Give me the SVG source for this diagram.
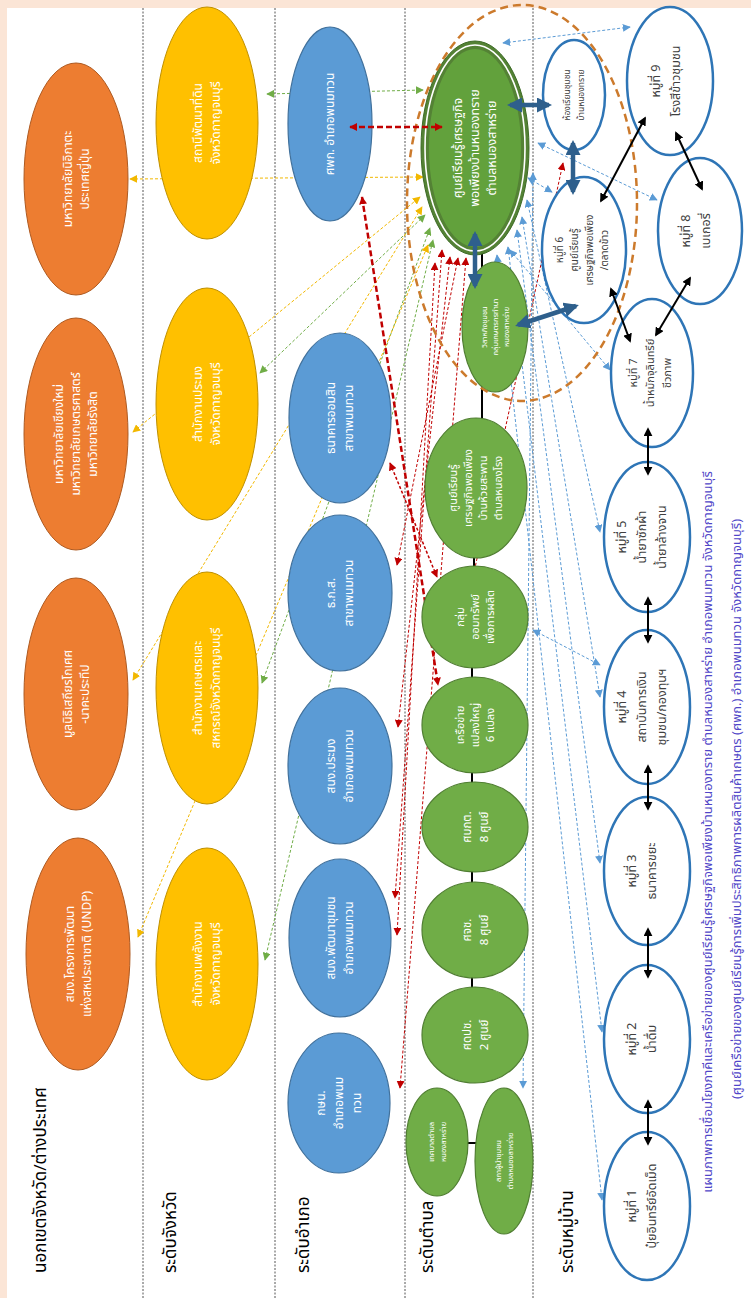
<svg xmlns="http://www.w3.org/2000/svg" width="751" height="1298" viewBox="0 0 751 1298">
<defs>
<style>
text{font-family:'Noto Sans Thai','Noto Sans','DejaVu Sans',sans-serif;}
.w{fill:#fff;text-anchor:middle;}
.k{fill:#404040;text-anchor:middle;}
.hd{fill:#000;font-size:17px;}
.ti{fill:#5046c8;font-size:13px;text-anchor:middle;}
.sep{stroke:#555;stroke-width:1;stroke-dasharray:2 1.5;fill:none;}
.or{fill:#ed7d31;stroke:#ae5a21;stroke-width:1;}
.ye{fill:#ffc000;stroke:#bf9000;stroke-width:1;}
.bl{fill:#5b9bd5;stroke:#41719c;stroke-width:1.2;}
.gr{fill:#70ad47;stroke:#507e32;stroke-width:1.2;}
.vi{fill:#fff;stroke:#2e75b6;stroke-width:2.5;}
.dg{stroke:#70ad47;stroke-width:1;stroke-dasharray:3 2;fill:none;marker-start:url(#mG);marker-end:url(#mG);}
.dy{stroke:#f2b800;stroke-width:1;stroke-dasharray:3 2;fill:none;marker-start:url(#mY);marker-end:url(#mY);}
.dr{stroke:#c00000;stroke-width:1;stroke-dasharray:3 2;fill:none;marker-start:url(#mR);marker-end:url(#mR);}
.drt{stroke:#c00000;stroke-width:2.5;stroke-dasharray:6 3;fill:none;marker-start:url(#mR);marker-end:url(#mR);}
.db{stroke:#5b9bd5;stroke-width:1;stroke-dasharray:3 2;fill:none;marker-start:url(#mB);marker-end:url(#mB);}
.ak{stroke:#000;stroke-width:2;fill:none;marker-start:url(#mK);marker-end:url(#mK);}
.at{stroke:#2e5f8c;stroke-width:4.5;fill:none;marker-start:url(#mT);marker-end:url(#mT);}
.ln{stroke:#000;stroke-width:2;}
</style>
<marker id="mG" viewBox="0 0 10 10" refX="9" refY="5" markerWidth="8" markerHeight="8" markerUnits="userSpaceOnUse" orient="auto-start-reverse"><path d="M0,0 L10,5 L0,10 z" fill="#70ad47"/></marker>
<marker id="mY" viewBox="0 0 10 10" refX="9" refY="5" markerWidth="8" markerHeight="8" markerUnits="userSpaceOnUse" orient="auto-start-reverse"><path d="M0,0 L10,5 L0,10 z" fill="#f2b800"/></marker>
<marker id="mR" viewBox="0 0 10 10" refX="9" refY="5" markerWidth="8" markerHeight="8" markerUnits="userSpaceOnUse" orient="auto-start-reverse"><path d="M0,0 L10,5 L0,10 z" fill="#c00000"/></marker>
<marker id="mB" viewBox="0 0 10 10" refX="9" refY="5" markerWidth="8" markerHeight="8" markerUnits="userSpaceOnUse" orient="auto-start-reverse"><path d="M0,0 L10,5 L0,10 z" fill="#5b9bd5"/></marker>
<marker id="mK" viewBox="0 0 10 10" refX="8" refY="5" markerWidth="9" markerHeight="9" markerUnits="userSpaceOnUse" orient="auto-start-reverse"><path d="M0,0 L10,5 L0,10 z" fill="#000"/></marker>
<marker id="mT" viewBox="0 0 10 10" refX="8" refY="5" markerWidth="15" markerHeight="15" markerUnits="userSpaceOnUse" orient="auto-start-reverse"><path d="M0,0 L10,5 L0,10 z" fill="#2e5f8c"/></marker>
</defs>

<rect x="0" y="0" width="751" height="1298" fill="#fbe5d6"/>
<rect x="7" y="8" width="744" height="1290" fill="#fff"/>

<g id="separators">
<line class="sep" x1="143" y1="8" x2="143" y2="1298"/>
<line class="sep" x1="275" y1="8" x2="275" y2="1298"/>
<line class="sep" x1="405" y1="8" x2="405" y2="1298"/>
<line class="sep" x1="533" y1="8" x2="533" y2="1298"/>
</g>

<g id="headers">
<text class="hd" transform="translate(46,1273) rotate(-90)">นอกเขตจังหวัด/ต่างประเทศ</text>
<text class="hd" transform="translate(176,1273) rotate(-90)">ระดับจังหวัด</text>
<text class="hd" transform="translate(309,1273) rotate(-90)">ระดับอำเภอ</text>
<text class="hd" transform="translate(433,1273) rotate(-90)">ระดับตำบล</text>
<text class="hd" transform="translate(573,1273) rotate(-90)">ระดับหมู่บ้าน</text>
</g>

<g id="title">
<text class="ti" transform="translate(712,832) rotate(-90)">แผนภาพการเชื่อมโยงภาคีและเครือข่ายของศูนย์เรียนรู้เศรษฐกิจพอเพียงบ้านหนองทราย  ตำบลหนองสาหร่าย  อำเภอพนมทวน  จังหวัดกาญจนบุรี</text>
<text class="ti" transform="translate(741,809) rotate(-90)">(ศูนย์เครือข่ายของศูนย์เรียนรู้การเพิ่มประสิทธิภาพการผลิตสินค้าเกษตร (ศพก.) อำเภอพนมทวน  จังหวัดกาญจนบุรี)</text>
</g>

<g id="connectors">
<line class="dg" x1="267" y1="94" x2="423" y2="90"/>
<line class="dg" x1="260" y1="373" x2="425" y2="215"/>
<line class="dg" x1="262" y1="683" x2="430" y2="228"/>
<line class="dg" x1="265" y1="960" x2="433" y2="240"/>
<line class="dy" x1="130" y1="179" x2="423" y2="177"/>
<line class="dy" x1="133" y1="432" x2="420" y2="197"/>
<line class="dy" x1="133" y1="680" x2="422" y2="207"/>
<line class="dy" x1="138" y1="937" x2="428" y2="245"/>
<line class="dr" x1="458" y1="258" x2="397" y2="565"/>
<line class="dr" x1="450" y1="257" x2="398" y2="727"/>
<line class="dr" x1="442" y1="250" x2="395" y2="898"/>
<line class="dr" x1="435" y1="263" x2="397" y2="935"/>
<line class="dr" x1="466" y1="258" x2="400" y2="1088"/>
<line class="dr" style="marker-start:none" x1="468" y1="600" x2="563" y2="163"/>
<line class="dr" style="stroke-width:1.5" x1="390" y1="463" x2="437" y2="577"/>
<line class="db" x1="503" y1="43" x2="630" y2="27"/>
<line class="db" x1="538" y1="143" x2="657" y2="200"/>
<line class="db" x1="528" y1="178" x2="552" y2="192"/>
<line class="db" x1="510" y1="250" x2="610" y2="370"/>
<line class="db" x1="527" y1="200" x2="600" y2="532"/>
<line class="db" x1="522" y1="217" x2="600" y2="697"/>
<line class="db" x1="517" y1="230" x2="600" y2="863"/>
<line class="db" x1="508" y1="247" x2="602" y2="1032"/>
<line class="db" x1="497" y1="255" x2="602" y2="1200"/>
<line class="db" x1="533" y1="173" x2="523" y2="1088"/>
<line class="db" x1="533" y1="630" x2="600" y2="665"/>
<line class="drt" x1="362" y1="197" x2="438" y2="685"/>
<line class="ln" x1="482" y1="245" x2="482" y2="270"/>
<line class="ln" x1="482" y1="385" x2="482" y2="425"/>
<line class="ln" x1="474" y1="552" x2="474" y2="572"/>
<line class="ln" x1="472" y1="660" x2="472" y2="682"/>
<line class="ln" x1="472" y1="768" x2="472" y2="786"/>
<line class="ln" x1="472" y1="868" x2="472" y2="886"/>
<line class="ln" x1="472" y1="974" x2="472" y2="990"/>
<line class="ln" x1="465" y1="1143" x2="478" y2="1143"/>
</g>

<g id="o1"><ellipse class="or" cx="76" cy="179" rx="52" ry="116"/><text class="w" font-size="12" transform="translate(76,179) rotate(-90)"><tspan x="0" y="-4.3">มหาวิทยาลัยนิอิกาตะ</tspan><tspan x="0" y="12.7">ประเทศญี่ปุ่น</tspan></text></g>
<g id="o2"><ellipse class="or" cx="76" cy="434" rx="52" ry="116"/><text class="w" font-size="12" transform="translate(76,434) rotate(-90)"><tspan x="0" y="-12.8">มหาวิทยาลัยเชียงใหม่</tspan><tspan x="0" y="4.2">มหาวิทยาลัยเกษตรศาสตร์</tspan><tspan x="0" y="21.2">มหาวิทยาลัยรังสิต</tspan></text></g>
<g id="o3"><ellipse class="or" cx="76" cy="694" rx="52" ry="116"/><text class="w" font-size="12" transform="translate(76,694) rotate(-90)"><tspan x="0" y="-4.3">มูลนิธิเสถียรโกเศศ</tspan><tspan x="0" y="12.7">-นาคะประทีป</tspan></text></g>
<g id="o4"><ellipse class="or" cx="78" cy="954" rx="52" ry="116"/><text class="w" font-size="12" transform="translate(78,954) rotate(-90)"><tspan x="0" y="-4.3">สนง.โครงการพัฒนา</tspan><tspan x="0" y="12.7">แห่งสหประชาชาติ (UNDP)</tspan></text></g>

<g id="y1"><ellipse class="ye" cx="207" cy="123" rx="51" ry="116"/><text class="w" font-size="12" transform="translate(207,123) rotate(-90)"><tspan x="0" y="-4.8">สถานีพัฒนาที่ดิน</tspan><tspan x="0" y="13.2">จังหวัดกาญจนบุรี</tspan></text></g>
<g id="y2"><ellipse class="ye" cx="207" cy="404" rx="51" ry="116"/><text class="w" font-size="12" transform="translate(207,404) rotate(-90)"><tspan x="0" y="-4.8">สำนักงานประมง</tspan><tspan x="0" y="13.2">จังหวัดกาญจนบุรี</tspan></text></g>
<g id="y3"><ellipse class="ye" cx="207" cy="688" rx="51" ry="116"/><text class="w" font-size="12" transform="translate(207,688) rotate(-90)"><tspan x="0" y="-4.8">สำนักงานเกษตรและ</tspan><tspan x="0" y="13.2">สหกรณ์จังหวัดกาญจนบุรี</tspan></text></g>
<g id="y4"><ellipse class="ye" cx="207" cy="964" rx="51" ry="116"/><text class="w" font-size="12" transform="translate(207,964) rotate(-90)"><tspan x="0" y="-4.8">สำนักงานพลังงาน</tspan><tspan x="0" y="13.2">จังหวัดกาญจนบุรี</tspan></text></g>

<g id="b1"><ellipse class="bl" cx="330" cy="124" rx="42" ry="97"/><text class="w" font-size="12" transform="translate(330,124) rotate(-90)"><tspan x="0" y="4.2">ศพก. อำเภอพนมทวน</tspan></text></g>
<g id="b2"><ellipse class="bl" cx="340" cy="418" rx="51" ry="85"/><text class="w" font-size="12" transform="translate(340,418) rotate(-90)"><tspan x="0" y="-4.8">ธนาคารออมสิน</tspan><tspan x="0" y="13.2">สาขาพนมทวน</tspan></text></g>
<g id="b3"><ellipse class="bl" cx="340" cy="593" rx="52" ry="78"/><text class="w" font-size="12" transform="translate(340,593) rotate(-90)"><tspan x="0" y="-4.8">ธ.ก.ส.</tspan><tspan x="0" y="13.2">สาขาพนมทวน</tspan></text></g>
<g id="b4"><ellipse class="bl" cx="340" cy="766" rx="52" ry="78"/><text class="w" font-size="12" transform="translate(340,766) rotate(-90)"><tspan x="0" y="-4.8">สนง.ประมง</tspan><tspan x="0" y="13.2">อำเภอพนมทวน</tspan></text></g>
<g id="b5"><ellipse class="bl" cx="340" cy="938" rx="51" ry="79"/><text class="w" font-size="12" transform="translate(340,938) rotate(-90)"><tspan x="0" y="-4.8">สนง.พัฒนาชุมชน</tspan><tspan x="0" y="13.2">อำเภอพนมทวน</tspan></text></g>
<g id="b6"><ellipse class="bl" cx="339" cy="1103" rx="51" ry="70"/><text class="w" font-size="12" transform="translate(339,1103) rotate(-90)"><tspan x="0" y="-13.8">กษน.</tspan><tspan x="0" y="4.2">อำเภอพนม</tspan><tspan x="0" y="22.2">ทวน</tspan></text></g>

<g id="g1">
<ellipse cx="475" cy="148" rx="54" ry="107" fill="#548235" stroke="#3d6b26" stroke-width="1"/>
<ellipse cx="475" cy="148" rx="50" ry="103" fill="none" stroke="#fff" stroke-width="1.6"/>
<ellipse cx="475" cy="148" rx="47" ry="100" fill="#62a13c" stroke="#548235" stroke-width="2"/>
<text class="w" font-size="12.5" transform="translate(475,148) rotate(-90)"><tspan x="0" y="-12.6">ศูนย์เรียนรู้เศรษฐกิจ</tspan><tspan x="0" y="4.4">พอเพียงบ้านหนองทราย</tspan><tspan x="0" y="21.4">ตำบลหนองสาหร่าย</tspan></text></g>
<g id="g2"><ellipse class="gr" cx="495" cy="327" rx="33" ry="65"/><text class="w" font-size="7.5" transform="translate(495,327) rotate(-90)"><tspan x="0" y="-8.4">วิสาหกิจชุมชน</tspan><tspan x="0" y="2.6">กลุ่มเกษตรกรทำนา</tspan><tspan x="0" y="13.6">หนองสาหร่าย</tspan></text></g>
<g id="g3"><ellipse class="gr" cx="476" cy="488" rx="51" ry="70"/><text class="w" font-size="11" transform="translate(476,488) rotate(-90)"><tspan x="0" y="-18.6">ศูนย์เรียนรู้</tspan><tspan x="0" y="-3.6">เศรษฐกิจพอเพียง</tspan><tspan x="0" y="11.4">บ้านห้วยสะพาน</tspan><tspan x="0" y="26.4">ตำบลหนองโรง</tspan></text></g>
<g id="g4"><ellipse class="gr" cx="475" cy="617" rx="53" ry="51"/><text class="w" font-size="11" transform="translate(475,617) rotate(-90)"><tspan x="0" y="-11.1">กลุ่ม</tspan><tspan x="0" y="3.9">ออมทรัพย์</tspan><tspan x="0" y="18.9">เพื่อการผลิต</tspan></text></g>
<g id="g5"><ellipse class="gr" cx="475" cy="725" rx="53" ry="48"/><text class="w" font-size="11" transform="translate(475,725) rotate(-90)"><tspan x="0" y="-11.1">เครือข่าย</tspan><tspan x="0" y="3.9">แปลงใหญ่</tspan><tspan x="0" y="18.9">6 แปลง</tspan></text></g>
<g id="g6"><ellipse class="gr" cx="475" cy="827" rx="53" ry="45"/><text class="w" font-size="11.5" transform="translate(475,827) rotate(-90)"><tspan x="0" y="-4.5">ศบกต.</tspan><tspan x="0" y="12.5">8 ศูนย์</tspan></text></g>
<g id="g7"><ellipse class="gr" cx="475" cy="930" rx="53" ry="48"/><text class="w" font-size="11.5" transform="translate(475,930) rotate(-90)"><tspan x="0" y="-4.5">ศจช.</tspan><tspan x="0" y="12.5">8 ศูนย์</tspan></text></g>
<g id="g8"><ellipse class="gr" cx="475" cy="1035" rx="53" ry="48"/><text class="w" font-size="11.5" transform="translate(475,1035) rotate(-90)"><tspan x="0" y="-4.5">ศดปช.</tspan><tspan x="0" y="12.5">2 ศูนย์</tspan></text></g>
<g id="g9"><ellipse class="gr" cx="437" cy="1142" rx="31" ry="54"/><text class="w" font-size="7.5" transform="translate(437,1142) rotate(-90)"><tspan x="0" y="-3.4">เทศบาลตำบล</tspan><tspan x="0" y="8.6">หนองสาหร่าย</tspan></text></g>
<g id="g10"><ellipse class="gr" cx="504" cy="1161" rx="29" ry="73"/><text class="w" font-size="7.5" transform="translate(504,1161) rotate(-90)"><tspan x="0" y="-3.4">สภาผู้นำชุมชน</tspan><tspan x="0" y="8.6">ตำบลหนองสาหร่าย</tspan></text></g>

<g id="v_room"><ellipse class="vi" cx="574" cy="95" rx="31" ry="55"/><text class="k" font-size="8.5" transform="translate(574,95) rotate(-90)"><tspan x="0" y="-4">ห้องเรียนชุมชน</tspan><tspan x="0" y="10">บ้านหนองทราย</tspan></text></g>
<g id="v6"><ellipse class="vi" cx="584" cy="250" rx="42" ry="73"/><text class="k" font-size="10" transform="translate(582,250) rotate(-90)"><tspan x="0" y="-19">หมู่ที่ 6</tspan><tspan x="0" y="-4">ศูนย์เรียนรู้</tspan><tspan x="0" y="11">เศรษฐกิจพอเพียง</tspan><tspan x="0" y="26">/ตลาดข้าว</tspan></text></g>
<g id="v9"><ellipse class="vi" cx="670" cy="81" rx="43" ry="74"/><text class="k" font-size="12.5" transform="translate(666,81) rotate(-90)"><tspan x="0" y="-5.6">หมู่ที่ 9</tspan><tspan x="0" y="14.4">โรงสีข้าวชุมชน</tspan></text></g>
<g id="v8"><ellipse class="vi" cx="700" cy="231" rx="42" ry="73"/><text class="k" font-size="12.5" transform="translate(696,231) rotate(-90)"><tspan x="0" y="-5.6">หมู่ที่ 8</tspan><tspan x="0" y="14.4">เบเกอรี่</tspan></text></g>
<g id="v7"><ellipse class="vi" cx="652" cy="373" rx="41" ry="74"/><text class="k" font-size="11" transform="translate(650,373) rotate(-90)"><tspan x="0" y="-13.1">หมู่ที่ 7</tspan><tspan x="0" y="3.9">น้ำหมักจุลินทรีย์</tspan><tspan x="0" y="20.9">ชีวภาพ</tspan></text></g>
<g id="v5"><ellipse class="vi" cx="647" cy="537" rx="43" ry="75"/><text class="k" font-size="12.5" transform="translate(642,537) rotate(-90)"><tspan x="0" y="-15.6">หมู่ที่ 5</tspan><tspan x="0" y="4.4">น้ำยาซักผ้า</tspan><tspan x="0" y="24.4">น้ำยาล้างจาน</tspan></text></g>
<g id="v4"><ellipse class="vi" cx="647" cy="707" rx="43" ry="77"/><text class="k" font-size="12.5" transform="translate(642,707) rotate(-90)"><tspan x="0" y="-15.6">หมู่ที่ 4</tspan><tspan x="0" y="4.4">สถาบันการเงิน</tspan><tspan x="0" y="24.4">ชุมชน/กองทุนฯ</tspan></text></g>
<g id="v3"><ellipse class="vi" cx="647" cy="871" rx="43" ry="74"/><text class="k" font-size="12.5" transform="translate(642,871) rotate(-90)"><tspan x="0" y="-5.6">หมู่ที่ 3</tspan><tspan x="0" y="14.4">ธนาคารขยะ</tspan></text></g>
<g id="v2"><ellipse class="vi" cx="647" cy="1039" rx="43" ry="74"/><text class="k" font-size="12.5" transform="translate(642,1039) rotate(-90)"><tspan x="0" y="-5.6">หมู่ที่ 2</tspan><tspan x="0" y="14.4">น้ำดื่ม</tspan></text></g>
<g id="v1"><ellipse class="vi" cx="647" cy="1206" rx="43" ry="74"/><text class="k" font-size="12.5" transform="translate(642,1206) rotate(-90)"><tspan x="0" y="-5.6">หมู่ที่ 1</tspan><tspan x="0" y="14.4">ปุ๋ยอินทรีย์อัดเม็ด</tspan></text></g>

<g id="cluster"><ellipse cx="522" cy="203" rx="115" ry="198" fill="none" stroke="#cc7a2c" stroke-width="2.5" stroke-dasharray="8 5"/></g>

<g id="connectors-front">
<line class="drt" x1="350" y1="127" x2="442" y2="127"/>
<line class="at" x1="510" y1="105" x2="549" y2="105"/>
<line class="at" x1="573" y1="143" x2="573" y2="192"/>
<line class="at" x1="475" y1="234" x2="475" y2="286"/>
<line class="at" x1="518" y1="325" x2="576" y2="306"/>
<line class="ak" x1="601" y1="201" x2="645" y2="118"/>
<line class="ak" x1="676" y1="133" x2="702" y2="189"/>
<line class="ak" x1="611" y1="289" x2="630" y2="341"/>
<line class="ak" x1="656" y1="335" x2="690" y2="278"/>
<line class="ak" x1="648" y1="429" x2="648" y2="474"/>
<line class="ak" x1="648" y1="598" x2="648" y2="642"/>
<line class="ak" x1="648" y1="766" x2="648" y2="809"/>
<line class="ak" x1="648" y1="929" x2="648" y2="977"/>
<line class="ak" x1="648" y1="1101" x2="648" y2="1144"/>
</g>
</svg>
